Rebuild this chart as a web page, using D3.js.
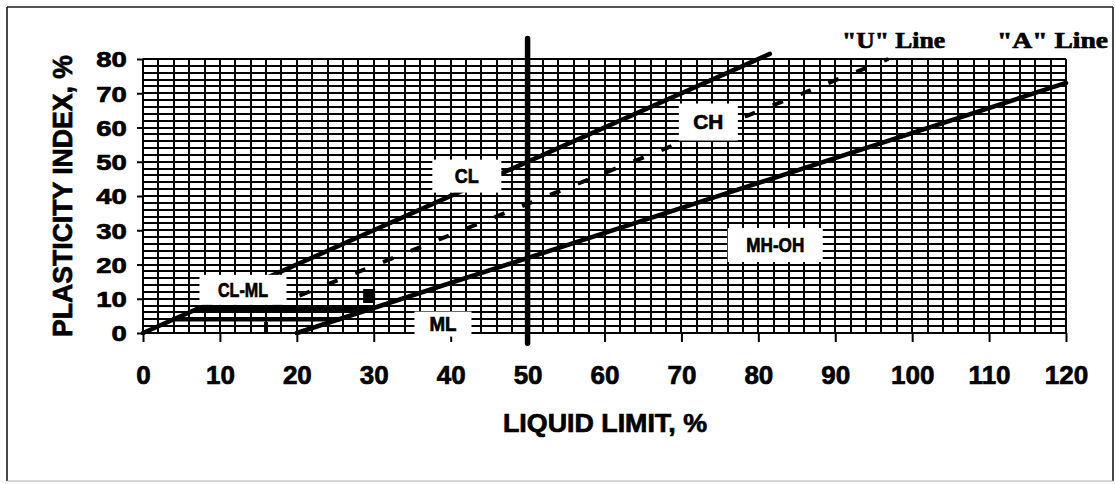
<!DOCTYPE html>
<html>
<head>
<meta charset="utf-8">
<script src="https://cdn.jsdelivr.net/npm/d3@7"></script>
<style>
  body { margin: 0; background: #fff; }
  svg { display: block; }
</style>
</head>
<body>
<div id="plot-area"></div>
<script>
// Plasticity chart (liquid limit vs plasticity index)

const ll_ticks = [0, 10, 20, 30, 40, 50, 60, 70, 80, 90, 100, 110, 120];
const pi_ticks = [0, 10, 20, 30, 40, 50, 60, 70, 80];

// boundary lines, [liquid limit, plasticity index]
const a_line = [[20, 0], [120, 73]];
const u_line = [[16, 0], [16, 7], [96.9, 80]];
const ll_pi_line = [[0, 0], [81.5, 81.5]];
const ll50_line = [[50, -3], [50, 86]];
const pi4_line = [[4, 4], [25.5, 4]];
const pi7_line = [[7, 7], [29.6, 7]];
const sample_pts = [[29.4, 10.8]];

// zone labels
const zone_names = ["CL", "CH", "CL-ML", "ML", "MH-OH"];
const zone_ll = [42.1, 73.5, 13.0, 39.0, 82.2];
const zone_pi = [45.8, 61.6, 12.6, 2.6, 25.7];

const line_names = ["\"U\" Line", "\"A\" Line"];

const w = 1115, h = 484;
const svg = d3.select("#plot-area").
append("svg").
attr("width", w).
attr("height", h);

// outer frame
const frame = svg.append("g");
frame.append("line").attr("x1", 7).attr("y1", 7).attr("x2", 1113).attr("y2", 7).attr("stroke", "#1a1a1a").attr("stroke-width", 1.6);
frame.append("line").attr("x1", 7).attr("y1", 7).attr("x2", 7).attr("y2", 481).attr("stroke", "#1a1a1a").attr("stroke-width", 1.6);
frame.append("line").attr("x1", 1113).attr("y1", 7).attr("x2", 1113).attr("y2", 481).attr("stroke", "#1a1a1a").attr("stroke-width", 1.6);
frame.append("line").attr("x1", 7).attr("y1", 481).attr("x2", 1113).attr("y2", 481).attr("stroke", "#aaa").attr("stroke-width", 1.2);

const xScale = d3.scaleLinear().
domain([0, 120]).
range([143, 1066]);

const yScale = d3.scaleLinear().
domain([0, 80]).
range([333, 59]);

// dense grid every 2 units
const grid = svg.append("g").
attr("stroke", "#000").
attr("stroke-width", 2).
attr("shape-rendering", "crispEdges");
grid.selectAll(".vgrid").
data(xScale.ticks(60)).
enter().
append("line").
attr("x1", d => Math.round(xScale(d))).
attr("x2", d => Math.round(xScale(d))).
attr("y1", yScale(0)).
attr("y2", yScale(80));

grid.selectAll(".hgrid").
data(yScale.ticks(40)).
enter().
append("line").
attr("x1", xScale(0)).
attr("x2", xScale(120)).
attr("y1", d => Math.round(yScale(d))).
attr("y2", d => Math.round(yScale(d)));

const heavy = sel => sel.attr("stroke", "#000").attr("stroke-width", 0.7).attr("fill", "#000");

// axes
const yAxis = svg.append("g").
attr("transform", `translate(${xScale(0)} 0)`).
call(d3.axisLeft(yScale).tickValues(pi_ticks).tickSize(6).tickPadding(0));
yAxis.select(".domain").remove();
yAxis.selectAll("line").attr("stroke", "#000").attr("stroke-width", 2);
yAxis.selectAll("text").
attr("x", -13).
attr("dy", "0.36em").
attr("transform", "scale(1.25 1)").
attr("font-family", "Liberation Sans, Arial, sans-serif").
attr("font-weight", "bold").
attr("font-size", 22).
call(heavy);

const xAxis = svg.append("g").
attr("transform", `translate(0 ${yScale(0)})`).
call(d3.axisBottom(xScale).tickValues(ll_ticks).tickSize(9).tickPadding(0));
xAxis.select(".domain").remove();
xAxis.selectAll("line").attr("stroke", "#000").attr("stroke-width", 2);
xAxis.selectAll("text").
attr("y", 51).
attr("dy", 0).
attr("font-family", "Liberation Sans, Arial, sans-serif").
attr("font-weight", "bold").
attr("font-size", 26).
call(heavy);

// boundary lines
const lineGen = d3.line().x(d => xScale(d[0])).y(d => yScale(d[1]));
const solid = [a_line, ll_pi_line, pi4_line, pi7_line];
svg.selectAll(".bound").
data(solid).
enter().
append("path").
attr("d", lineGen).
attr("fill", "none").
attr("stroke", "#000").
attr("stroke-width", 4.5).
attr("stroke-linecap", "round");

svg.append("path").
attr("d", lineGen(ll50_line)).
attr("fill", "none").
attr("stroke", "#000").
attr("stroke-width", 5.5).
attr("stroke-linecap", "round");

svg.append("path").
attr("d", lineGen(u_line)).
attr("fill", "none").
attr("stroke", "#000").
attr("stroke-width", 4).
attr("stroke-dasharray", "11 19");

svg.selectAll(".pt").
data(sample_pts).
enter().
append("rect").
attr("x", d => xScale(d[0]) - 6).
attr("y", d => yScale(d[1]) - 7).
attr("width", 12).
attr("height", 14).
attr("fill", "#000");

// zone labels on white boxes
const box_w = [69, 59, 87, 57, 95];
const box_h = [33, 37, 30, 25, 34];
const text_w = [24, 30, 50, 27, 58];
const zones = svg.selectAll(".zone").
data(zone_names).
enter().
append("g").
attr("transform", (d, i) => `translate(${xScale(zone_ll[i])} ${yScale(zone_pi[i])})`);

zones.append("rect").
attr("x", (d, i) => -box_w[i] / 2).
attr("y", (d, i) => -box_h[i] / 2).
attr("width", (d, i) => box_w[i]).
attr("height", (d, i) => box_h[i]).
attr("fill", "#fff");

zones.append("text").
attr("text-anchor", "middle").
attr("y", 7).
attr("font-family", "Liberation Sans Narrow, Liberation Sans, Arial, sans-serif").
attr("font-weight", "bold").
attr("font-size", 21).
attr("textLength", (d, i) => text_w[i]).
attr("lengthAdjust", "spacingAndGlyphs").
call(heavy).
text(d => d);

// "U" / "A" line captions
svg.selectAll(".cap").
data(line_names).
enter().
append("text").
attr("x", (d, i) => [842, 997][i]).
attr("y", 48).
attr("font-family", "Liberation Serif, Times New Roman, serif").
attr("font-weight", "bold").
attr("font-size", 24).
attr("textLength", (d, i) => [103, 111][i]).
attr("lengthAdjust", "spacingAndGlyphs").
call(heavy).
text(d => d);

// axis titles
svg.append("text").
attr("x", 605).
attr("y", 432).
attr("text-anchor", "middle").
attr("font-family", "Liberation Sans, Arial, sans-serif").
attr("font-weight", "bold").
attr("font-size", 26).
attr("textLength", 204).
attr("lengthAdjust", "spacingAndGlyphs").
call(heavy).
text("LIQUID LIMIT, %");

svg.append("text").
attr("transform", "translate(72 196) rotate(-90)").
attr("text-anchor", "middle").
attr("font-family", "Liberation Sans, Arial, sans-serif").
attr("font-weight", "bold").
attr("font-size", 27).
attr("textLength", 282).
attr("lengthAdjust", "spacingAndGlyphs").
call(heavy).
text("PLASTICITY INDEX, %");
</script>
</body>
</html>
